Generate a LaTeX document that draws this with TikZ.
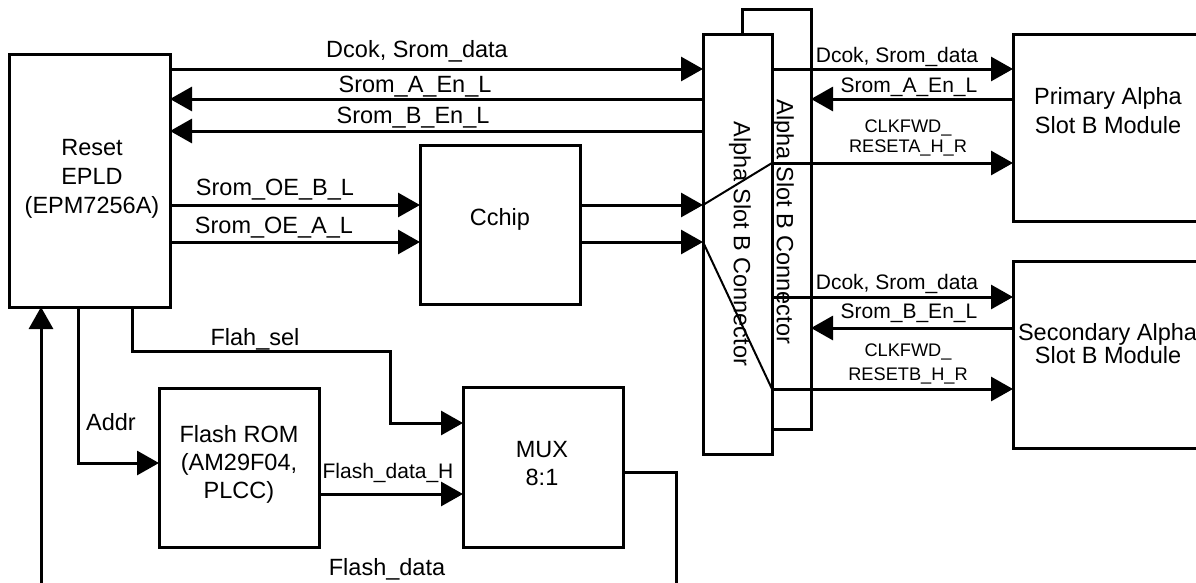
\documentclass[tikz,border=0pt]{standalone}
\usepackage{fontspec}
\setmainfont{Liberation Sans}
\usetikzlibrary{arrows.meta}
\begin{document}
\begin{tikzpicture}[x=1pt,y=-1pt,
 box/.style={draw,line width=3pt,fill=white,inner sep=0pt,outer sep=0pt},
 ln/.style={line width=3pt},
 thinln/.style={line width=2pt},
 arr/.style={-{Triangle[length=22pt,width=24pt]}},
 big/.style={font=\fontsize{23.5}{28}\selectfont,anchor=base,inner sep=0pt},
 mid/.style={font=\fontsize{21}{25}\selectfont,anchor=base,inner sep=0pt},
 sml/.style={font=\fontsize{18.2}{22}\selectfont,anchor=base,inner sep=0pt},
 vert/.style={font=\fontsize{23.5}{28}\selectfont,anchor=center,inner sep=0pt,rotate=-90},
]
\useasboundingbox (0,0) rectangle (1196,582);
\clip (0,0) rectangle (1196,582);
% boxes
\node[box,minimum width=161pt,minimum height=253pt] (epld) at (89.5,180.5) {};
\node[box,minimum width=160pt,minimum height=159pt] (cchip) at (500,224.5) {};
\node[box,minimum width=160pt,minimum height=159pt] (flash) at (239,467.5) {};
\node[box,minimum width=160pt,minimum height=160pt] (mux) at (543,467) {};
\node[box,minimum width=69pt,minimum height=420pt] (conB) at (776.5,219) {};
\node[box,minimum width=69pt,minimum height=420pt] (conA) at (737.5,244) {};
\node[vert] (conBt) at (783,222) {Alpha Slot B Connector};
\node[vert] (conAt) at (740,244) {Alpha Slot B Connector};
\node[box,minimum width=217pt,minimum height=187pt] (prim) at (1121.5,127.5) {};
\node[box,minimum width=217pt,minimum height=187pt] (sec) at (1121.5,354.5) {};
% box texts
\node[big] (e1) at (92,155) {Reset};
\node[big] (e2) at (92,184) {EPLD};
\node[big] (e3) at (92,213) {(EPM7256A)};
\node[big] (c1) at (500,225) {Cchip};
\node[big] (f1) at (239,442) {Flash ROM};
\node[big] (f2) at (239,470) {(AM29F04,};
\node[big] (f3) at (239,498) {PLCC)};
\node[big] (m1) at (542,457) {MUX};
\node[big] (m2) at (542,485) {8:1};
\node[big] (p1) at (1108,104) {Primary Alpha};
\node[big] (p2) at (1108,133) {Slot B Module};
\node[big] (s1) at (1107.5,340) {Secondary Alpha};
\node[big] (s2) at (1108,363) {Slot B Module};
% left connectors
\draw[ln,arr] (epld.east |- 0,69) -- (conA.west |- 0,69);
\draw[ln,arr] (conA.west |- 0,99) -- (epld.east |- 0,99);
\draw[ln,arr] (conA.west |- 0,131) -- (epld.east |- 0,131);
\draw[ln,arr] (epld.east |- 0,205) -- (cchip.west |- 0,205);
\draw[ln,arr] (epld.east |- 0,242) -- (cchip.west |- 0,242);
\draw[ln,arr] (cchip.east |- 0,205) -- (conA.west |- 0,205);
\draw[ln,arr] (cchip.east |- 0,242) -- (conA.west |- 0,242);
\node[big] (l1) at (417,57) {Dcok, Srom\_data};
\node[big] (l2) at (415,92) {Srom\_A\_En\_L};
\node[big] (l3) at (413,123) {Srom\_B\_En\_L};
\node[big] (l4) at (275,195) {Srom\_OE\_B\_L};
\node[big] (l5) at (274,233) {Srom\_OE\_A\_L};
% crossings inside connector
\draw[thinln] (conA.west |- 0,205) -- (conA.east |- 0,163);
\draw[thinln] (conA.west |- 0,242) -- (conA.east |- 0,389);
% right connectors
\draw[ln,arr] (conA.east |- 0,69) -- (prim.west |- 0,69);
\draw[ln,arr] (prim.west |- 0,99) -- (conB.east |- 0,99);
\draw[ln,arr] (conA.east |- 0,163) -- (prim.west |- 0,163);
\draw[ln,arr] (conA.east |- 0,297) -- (sec.west |- 0,297);
\draw[ln,arr] (sec.west |- 0,328) -- (conB.east |- 0,328);
\draw[ln,arr] (conA.east |- 0,389) -- (sec.west |- 0,389);
\node[mid] (r1) at (897,62) {Dcok, Srom\_data};
\node[mid] (r2) at (909,92) {Srom\_A\_En\_L};
\node[sml] (r3) at (908,132) {CLKFWD\_};
\node[sml] (r4) at (908,152) {RESETA\_H\_R};
\node[mid] (r5) at (897,289) {Dcok, Srom\_data};
\node[mid] (r6) at (909,318) {Srom\_B\_En\_L};
\node[sml] (r7) at (908,356) {CLKFWD\_};
\node[sml] (r8) at (908,380) {RESETB\_H\_R};
% bottom
\coordinate (b1) at (41,600);
\coordinate (b2) at (676,600);
\draw[ln,arr] (b1) -- (epld.south -| b1);
\draw[ln,arr] (epld.south -| 78,0) |- (flash.west |- 0,463);
\draw[ln,arr] (epld.south -| 132,0) |- (390,351) |- (mux.west |- 0,423);
\draw[ln,arr] (flash.east |- 0,494) -- (mux.west |- 0,494);
\draw[ln] (mux.east |- 0,472) -| (b2);
\node[big] (a1) at (111,430) {Addr};
\node[big] (a2) at (255,345) {Flah\_sel};
\node[mid] (a3) at (388,478) {Flash\_data\_H};
\node[big] (a4) at (387,575) {Flash\_data};
\end{tikzpicture}
\end{document}
